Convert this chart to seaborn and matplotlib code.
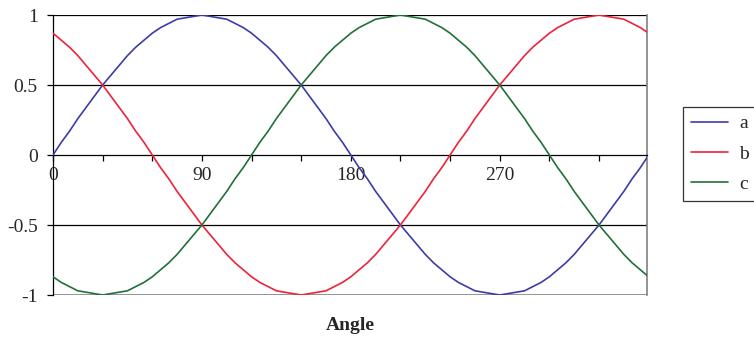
import pandas as pd
import seaborn as sns
import matplotlib.pyplot as plt

# angle in degrees, values every 5 degrees
angle = [0, 5, 10, 15, 20, 25, 30, 35, 40, 45, 50, 55, 60, 65, 70, 75, 80, 85, 90,
         95, 100, 105, 110, 115, 120, 125, 130, 135, 140, 145, 150, 155, 160, 165, 170, 175, 180,
         185, 190, 195, 200, 205, 210, 215, 220, 225, 230, 235, 240, 245, 250, 255, 260, 265, 270,
         275, 280, 285, 290, 295, 300, 305, 310, 315, 320, 325, 330, 335, 340, 345, 350, 355, 360]
a = [0, .09, .17, .26, .34, .42, .5, .57, .64, .71, .77, .82, .87, .91, .94, .97, .98, .99, 1,
     .99, .98, .97, .94, .91, .87, .82, .77, .71, .64, .57, .5, .42, .34, .26, .17, .09, 0,
     -.09, -.17, -.26, -.34, -.42, -.5, -.57, -.64, -.71, -.77, -.82, -.87, -.91, -.94, -.97, -.98, -.99, -1,
     -.99, -.98, -.97, -.94, -.91, -.87, -.82, -.77, -.71, -.64, -.57, -.5, -.42, -.34, -.26, -.17, -.09, 0]
b = [.87, .82, .77, .71, .64, .57, .5, .42, .34, .26, .17, .09,
     0, -.09, -.17, -.26, -.34, -.42, -.5, -.57, -.64, -.71, -.77, -.82, -.87, -.91, -.94, -.97, -.98, -.99, -1,
     -.99, -.98, -.97, -.94, -.91, -.87, -.82, -.77, -.71, -.64, -.57, -.5, -.42, -.34, -.26, -.17, -.09,
     0, .09, .17, .26, .34, .42, .5, .57, .64, .71, .77, .82, .87, .91, .94, .97, .98, .99, 1,
     .99, .98, .97, .94, .91, .87]
c = [-.87, -.91, -.94, -.97, -.98, -.99, -1, -.99, -.98, -.97, -.94, -.91, -.87, -.82, -.77, -.71,
     -.64, -.57, -.5, -.42, -.34, -.26, -.17, -.09,
     0, .09, .17, .26, .34, .42, .5, .57, .64, .71, .77, .82, .87, .91, .94, .97, .98, .99, 1,
     .99, .98, .97, .94, .91, .87, .82, .77, .71, .64, .57, .5, .42, .34, .26, .17, .09, 0,
     -.09, -.17, -.26, -.34, -.42, -.5, -.57, -.64, -.71, -.77, -.82, -.87]
series_names = ["a", "b", "c"]
colors = ["#3c3ca8", "#ee2238", "#217038"]
xtick_major = [0, 90, 180, 270]
xtick_minor = [30, 60, 120, 150, 210, 240, 300, 330]
ytick = [-1, -0.5, 0, 0.5, 1]
ytick_labels = ["-1", "-0.5", "0", "0.5", "1"]

df = pd.DataFrame({"angle": angle, "a": a, "b": b, "c": c})
df = df.melt(id_vars="angle", var_name="series", value_name="value")

sns.set_style("white")
plt.rcParams["font.family"] = ["Liberation Serif", "DejaVu Serif"]

fig = plt.figure(figsize=(7.54, 3.44), dpi=100)
ax = fig.add_axes([53 / 754, 1 - 295 / 344, 594 / 754, 280 / 344])

# horizontal gridlines like the Excel chart
for yv in [0.5, -0.5, 1]:
    ax.axhline(yv, color="black", lw=0.9, zorder=1)
ax.axhline(-1, color="#808080", lw=1.2, zorder=1)

sns.lineplot(data=df, x="angle", y="value", hue="series", hue_order=series_names,
             palette=colors, lw=1.2, ax=ax, zorder=3)

ax.set_xlim(0, 359)
ax.set_ylim(-1, 1)

ax.spines["top"].set_visible(False)
ax.spines["bottom"].set_position(("data", 0))
ax.spines["bottom"].set_color("black")
ax.spines["bottom"].set_linewidth(0.9)
ax.spines["left"].set_color("black")
ax.spines["left"].set_linewidth(0.9)
ax.spines["right"].set_color("#808080")
ax.spines["right"].set_linewidth(1.2)

ax.set_xticks(xtick_major)
ax.set_xticklabels([str(v) for v in xtick_major], fontsize=14)
ax.set_xticks(xtick_minor, minor=True)
ax.set_yticks(ytick)
ax.set_yticklabels(ytick_labels, fontsize=14)
ax.tick_params(axis="x", which="both", direction="out", length=4, width=0.9,
               color="black", bottom=True, pad=5)
ax.tick_params(axis="y", direction="out", length=4, width=0.9, color="black", left=True, pad=7)

ax.set_xlabel("Angle", fontsize=14, fontweight="bold")
ax.xaxis.set_label_coords(0.5, -0.08)
ax.set_ylabel("")

handles, labels = ax.get_legend_handles_labels()
ax.legend(handles, labels, loc="upper left", bbox_to_anchor=(683 / 754, 1 - 107 / 344),
          bbox_transform=fig.transFigure, frameon=True, fancybox=False, edgecolor="black",
          fontsize=14, handlelength=1.9, labelspacing=0.65, borderpad=0.4,
          handletextpad=0.6, borderaxespad=0)
ax.get_legend().get_frame().set_linewidth(0.9)

plt.savefig("out.png", dpi=100)
